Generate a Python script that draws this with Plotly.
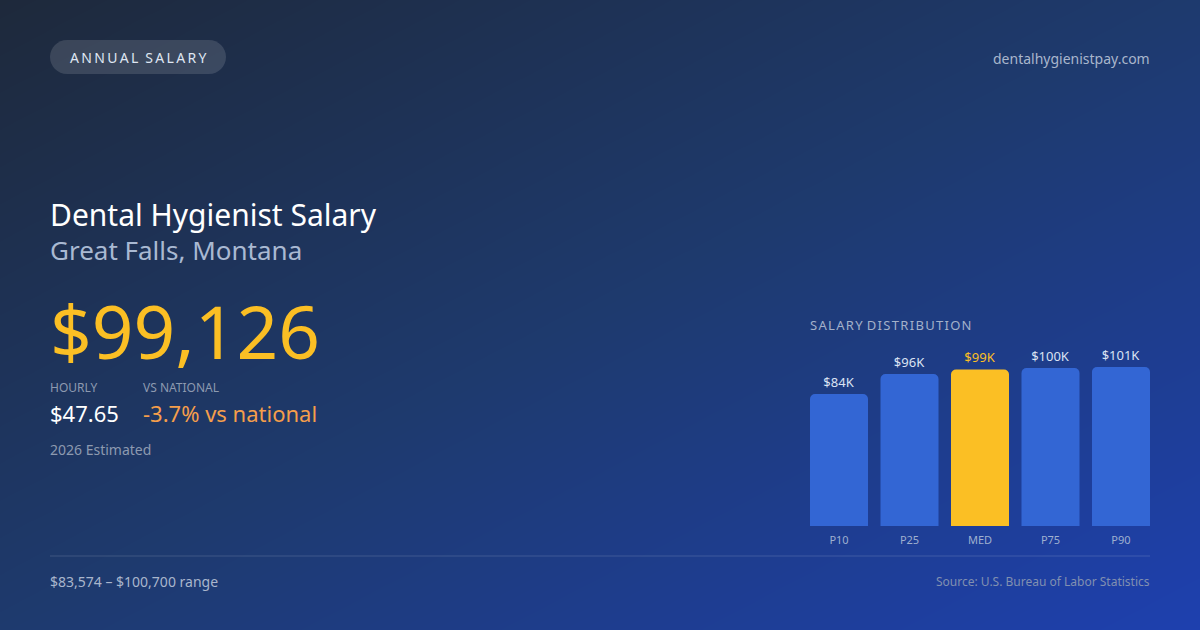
import plotly.graph_objects as go
import numpy as np

categories = ["P10", "P25", "MED", "P75", "P90"]
values = [83574, 96200, 99126, 100000, 100700]
labels = ["$84K", "$96K", "$99K", "$100K", "$101K"]

W, H = 1200, 630
def px(x): return x / W
def py(y): return 1 - y / H

fig = go.Figure()

n = 60
gx = np.linspace(0, 1, n)
gy = np.linspace(0, 1, n)
Z = [[(x + (1 - y)) / 2 for x in gx] for y in gy]
fig.add_trace(go.Heatmap(z=Z, x=gx, y=gy, xaxis="x", yaxis="y", showscale=False,
                         zsmooth="best", hoverinfo="skip",
                         colorscale=[[0, "#1e293b"], [0.5, "#1e3a6e"], [1, "#1e40af"]]))

colors = ["#3366d4" if c != "MED" else "#fbbf24" for c in categories]
tcolors = ["#dbe3f3" if c != "MED" else "#fbbf24" for c in categories]
fig.add_trace(go.Bar(x=categories, y=values, xaxis="x2", yaxis="y2",
                     marker=dict(color=colors, line=dict(width=0)),
                     text=labels, textposition="outside", cliponaxis=False,
                     textfont=dict(size=13, color=tcolors), hoverinfo="skip"))

x0, x1, y0, y1 = 50, 226, 40, 74
r = 17
k = 0.5523 * r
pts = f"M {px(x0+r)},{py(y0)} L {px(x1-r)},{py(y0)} " \
      f"C {px(x1-r+k)},{py(y0)} {px(x1)},{py(y0+r-k)} {px(x1)},{py(y0+r)} " \
      f"C {px(x1)},{py(y0+r+k)} {px(x1-r+k)},{py(y1)} {px(x1-r)},{py(y1)} " \
      f"L {px(x0+r)},{py(y1)} " \
      f"C {px(x0+r-k)},{py(y1)} {px(x0)},{py(y0+r+k)} {px(x0)},{py(y0+r)} " \
      f"C {px(x0)},{py(y0+r-k)} {px(x0+r-k)},{py(y0)} {px(x0+r)},{py(y0)} Z"
shapes = [
    dict(type="path", path=pts, xref="paper", yref="paper", fillcolor="rgba(255,255,255,0.13)", line=dict(width=0)),
    dict(type="line", xref="paper", yref="paper", x0=px(50), x1=px(1150), y0=py(556), y1=py(556),
         line=dict(color="rgba(255,255,255,0.15)", width=1)),
]

def T(x, y, s, size, color, anchor="left"):
    dx = -2 if anchor == "left" else 2
    return dict(x=px(x + dx), y=py(y), xref="paper", yref="paper", text=s, showarrow=False,
                xanchor=anchor, yanchor="middle", font=dict(size=size, color=color))

spaced = lambda s, sep="\u2009": sep.join(s)
ann = [
    T(70, 57, spaced("ANNUAL") + "\u2009\u2009\u2009" + spaced("SALARY"), 14, "#dfe6f2"),
    T(1150, 58, "dentalhygienistpay.com", 14, "#a9b6cc", "right"),
    T(50, 214, "Dental Hygienist Salary", 30, "#ffffff"),
    T(50, 250, "Great Falls, Montana", 26, "#a9b9d2"),
    T(50, 330, "$99,126", 73, "#fbbf24"),
    T(50, 387, "HOURLY", 12, "#8d9ab0"),
    T(50, 413, "$47.65", 22, "#ffffff"),
    T(143, 387, "VS NATIONAL", 12, "#8d9ab0"),
    T(143, 413, "-3.7% vs national", 22, "#f59e4b"),
    T(50, 449, "2026 Estimated", 14, "#8d9ab0"),
    T(810, 325, spaced("SALARY", "\u200a") + "\u2009\u2009" + spaced("DISTRIBUTION", "\u200a"), 13, "#a3b1ca"),
    T(50, 581, "$83,574 – $100,700 range", 14, "#a9b6cc"),
    T(1150, 581, "Source: U.S. Bureau of Labor Statistics", 12, "#8190b0", "right"),
]

g = 0.177
fig.update_layout(
    width=W, height=H, margin=dict(l=0, r=0, t=0, b=0),
    paper_bgcolor="#1e293b", plot_bgcolor="rgba(0,0,0,0)",
    font=dict(family="Noto Sans"), showlegend=False,
    bargap=g, barcornerradius=5,
    shapes=shapes, annotations=ann,
    xaxis=dict(domain=[0, 1], range=[0, 1], visible=False),
    yaxis=dict(domain=[0, 1], range=[0, 1], visible=False),
    xaxis2=dict(domain=[px(810), px(1150)], range=[-0.5 + g / 2, 4.5 - g / 2],
                showgrid=False, zeroline=False, showline=False, ticklabelstandoff=6,
                tickfont=dict(size=11, color="#9fb0cf"), ticks="", anchor="y2"),
    yaxis2=dict(domain=[py(526), py(367)], range=[0, 100700], visible=False, anchor="x2"),
)
fig.write_html("out.html", config={"displayModeBar": False},
               post_script="document.body.style.margin='0';")
